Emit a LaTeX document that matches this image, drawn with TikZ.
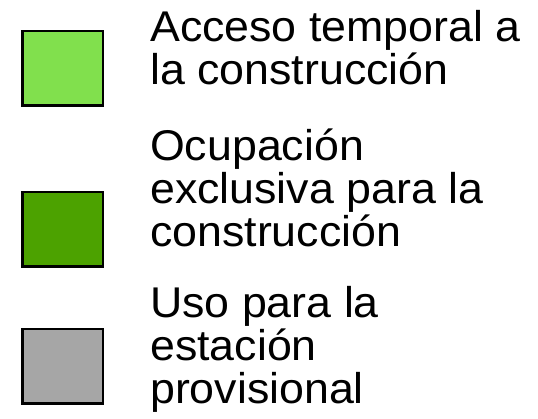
\documentclass[tikz,border=0pt]{standalone}
\usepackage{fontspec}
\setmainfont{Liberation Sans}[FakeStretch=1.04]
\definecolor{lightgr}{RGB}{129,224,77}
\definecolor{darkgr}{RGB}{76,162,0}
\definecolor{greyfill}{RGB}{166,166,166}
\begin{document}
\begin{tikzpicture}[x=1pt,y=-1pt,
  swatch/.style={draw=black,line width=2.5pt,minimum width=80.5pt,minimum height=74.5pt,inner sep=0pt},
  label/.style={anchor=base west,inner sep=0pt,align=left,font=\fontsize{43}{43}\selectfont}]
\useasboundingbox (0,0) rectangle (538,418);
\node[swatch,fill=lightgr] (s1) at (62.75,68.2) {};
\node[swatch,fill=darkgr] (s2) at (62.75,229.3) {};
\node[swatch,fill=greyfill] (s3) at (62.75,366) {};
\node[label] (t1) at (150,84) {Acceso temporal a\\la construcción};
\node[label] (t2) at (150,246.7) {Ocupación\\exclusiva para la\\construcción};
\node[label] (t3) at (150,403.3) {Uso para la\\estación\\provisional};
\end{tikzpicture}
\end{document}
